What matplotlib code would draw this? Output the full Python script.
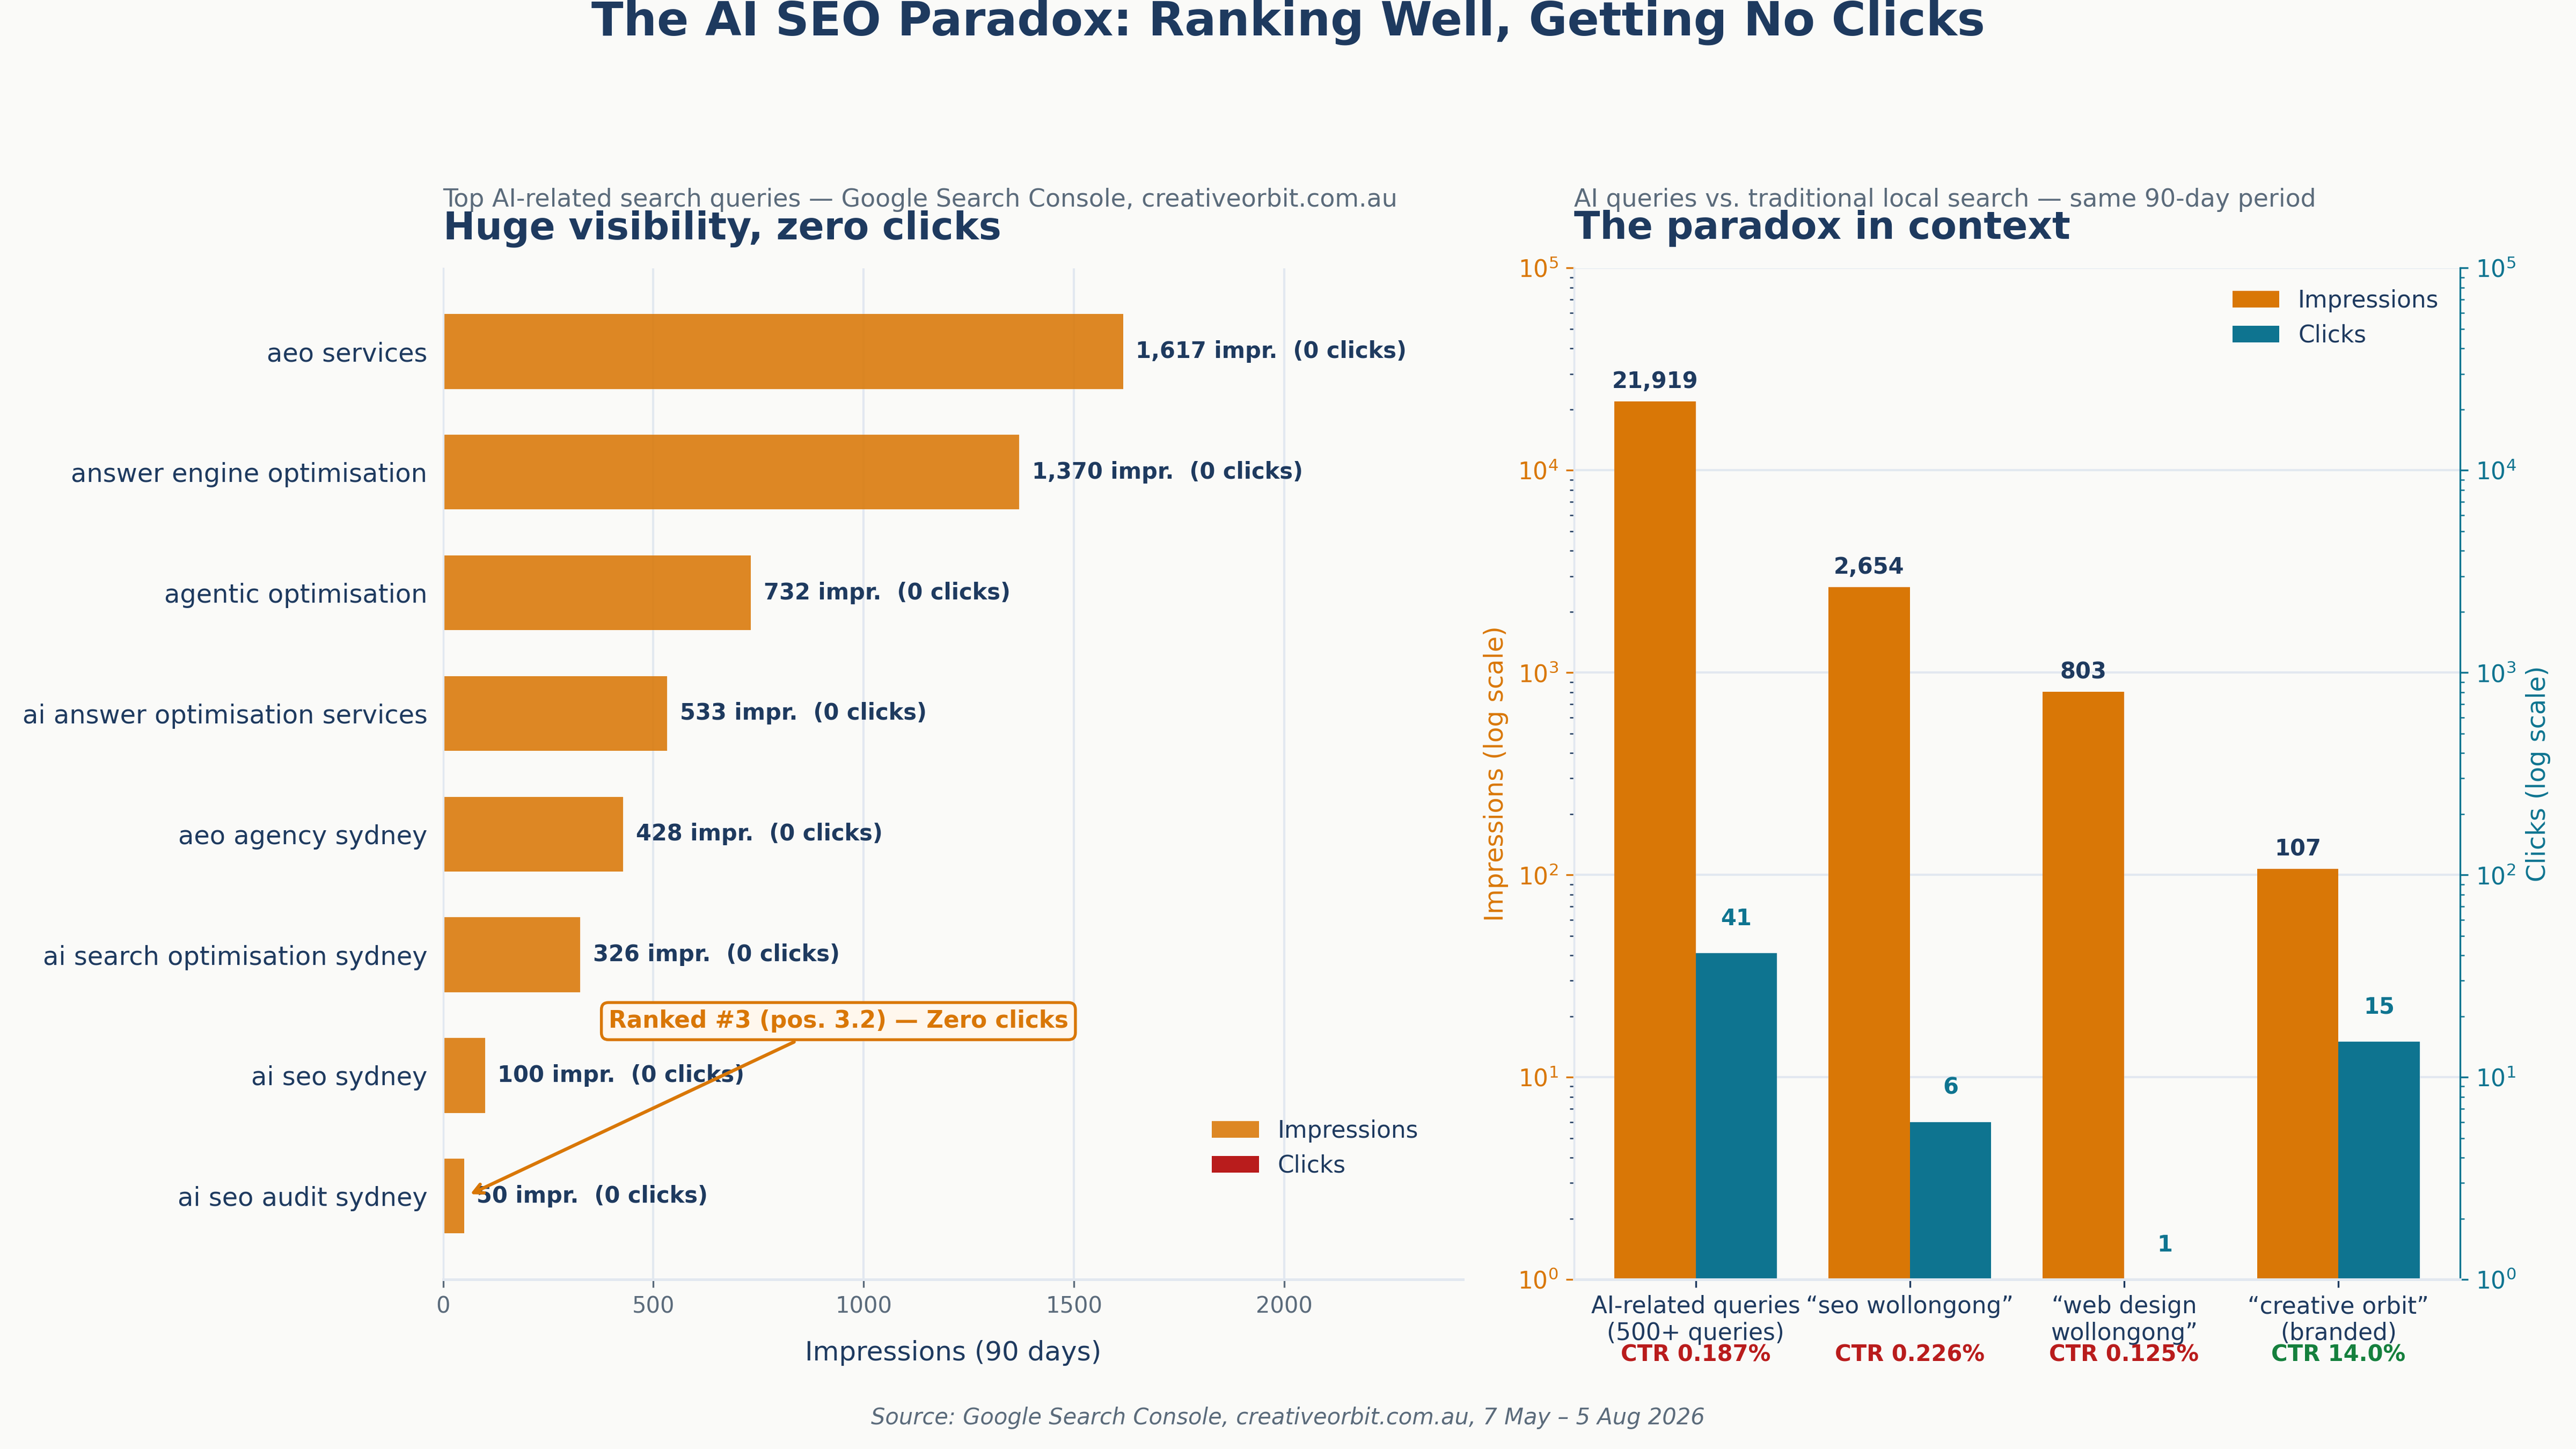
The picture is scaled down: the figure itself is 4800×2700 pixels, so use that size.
import matplotlib.pyplot as plt
import numpy as np
from matplotlib.ticker import LogLocator
from matplotlib.transforms import blended_transform_factory

# left panel: top AI queries
queries = ["aeo services", "answer engine optimisation", "agentic optimisation",
           "ai answer optimisation services", "aeo agency sydney",
           "ai search optimisation sydney", "ai seo sydney", "ai seo audit sydney"]
query_impr = [1617, 1370, 732, 533, 428, 326, 100, 50]
query_clicks = [0, 0, 0, 0, 0, 0, 0, 0]

# right panel: context comparison
groups = ["AI-related queries\n(500+ queries)", "\u201cseo wollongong\u201d",
          "\u201cweb design\nwollongong\u201d", "\u201ccreative orbit\u201d\n(branded)"]
group_impr = [21919, 2654, 803, 107]
group_clicks = [41, 6, 1, 15]

BG = "#FAFAF8"
NAVY = "#1E3A5F"
GREY = "#5B6B7B"
ORANGE = "#D97706"
TEAL = "#0E7490"
RED = "#B91C1C"
GREEN = "#15803D"
LIGHT = "#E2E8F0"

plt.rcParams['font.family'] = ['DejaVu Sans']

fig = plt.figure(figsize=(16, 9), dpi=300, facecolor=BG)
fig.suptitle("The AI SEO Paradox: Ranking Well, Getting No Clicks",
             fontsize=21, fontweight='bold', color=NAVY, y=1.0, va='top')

# ---------- left ----------
ax1 = fig.add_axes([0.172, 0.117, 0.396, 0.698])
ax1.set_facecolor(BG)
y = np.arange(len(queries))
ax1.barh(y, query_impr, height=0.62, color=ORANGE, alpha=0.88, label="Impressions")
ax1.barh(y, query_clicks, height=0.62, color=RED, label="Clicks")
ax1.invert_yaxis()
ax1.set_yticks(y)
ax1.set_yticklabels(queries, fontsize=11.5, color=NAVY)
ax1.tick_params(axis='y', length=0, pad=7)
ax1.tick_params(axis='x', colors=GREY, labelsize=10)
ax1.set_xlim(0, max(query_impr) * 1.5)
ax1.grid(axis='x', color=LIGHT, linewidth=1)
ax1.set_axisbelow(True)
for s in ("top", "right"):
    ax1.spines[s].set_visible(False)
ax1.spines["left"].set_color(LIGHT)
ax1.spines["bottom"].set_color(LIGHT)
ax1.spines["bottom"].set_linewidth(1.2)
ax1.set_xlabel("Impressions (90 days)", fontsize=12, color=NAVY, labelpad=10)

for yi, v, c in zip(y, query_impr, query_clicks):
    ax1.text(v + 30, yi, f"{v:,} impr.  ({c} clicks)", va='center', ha='left',
             fontsize=10, fontweight='bold', color=NAVY)

ax1.annotate("Ranked #3 (pos. 3.2) \u2014 Zero clicks", xy=(55, 7), xytext=(940, 5.55),
             fontsize=10.5, fontweight='bold', color=ORANGE, ha='center', va='center',
             bbox=dict(boxstyle="round,pad=0.3", fc="#FFF7ED", ec=ORANGE, lw=1.3),
             arrowprops=dict(arrowstyle="->", color=ORANGE, lw=1.5))

ax1.legend(loc='lower right', bbox_to_anchor=(0.977, 0.08), frameon=False,
           fontsize=10.5, labelcolor=NAVY)
ax1.set_title("Huge visibility, zero clicks", loc='left', fontsize=17,
              fontweight='bold', color=NAVY, pad=13)
ax1.text(0, 1.061, "Top AI-related search queries \u2014 Google Search Console, creativeorbit.com.au",
         transform=ax1.transAxes, fontsize=11, color=GREY, va='baseline')

# ---------- right ----------
ax2 = fig.add_axes([0.611, 0.117, 0.344, 0.698])
ax2.set_facecolor(BG)
x = np.arange(len(groups))
w = 0.38
b1 = ax2.bar(x - w / 2, group_impr, width=w, color=ORANGE, label="Impressions")
ax2.set_yscale('log')
ax2.set_ylim(1, 1e5)
ax3 = ax2.twinx()
b2 = ax3.bar(x + w / 2, group_clicks, width=w, color=TEAL, label="Clicks")
ax3.set_yscale('log')
ax3.set_ylim(1, 1e5)

ax2.set_xticks(x)
ax2.set_xticklabels(groups, fontsize=10.5, color=NAVY)
ax2.tick_params(axis='x', colors=NAVY, labelcolor=NAVY)
ax2.tick_params(axis='y', which='major', colors=ORANGE, labelsize=10.5)
ax2.tick_params(axis='y', which='minor', colors=NAVY)
ax3.tick_params(axis='y', which='both', colors=TEAL, labelsize=10.5)
ax2.yaxis.set_major_locator(LogLocator(base=10, numticks=10))
ax3.yaxis.set_major_locator(LogLocator(base=10, numticks=10))
ax2.grid(axis='y', which='major', color=LIGHT, linewidth=1)
ax2.set_axisbelow(True)

for a in (ax2, ax3):
    a.spines["top"].set_visible(False)
    a.spines["left"].set_color(LIGHT)
    a.spines["bottom"].set_color(LIGHT)
    a.spines["bottom"].set_linewidth(1.2)
ax3.spines["right"].set_color(TEAL)
ax2.spines["right"].set_visible(False)

ax2.set_ylabel("Impressions (log scale)", fontsize=11.5, color=ORANGE)
ax3.set_ylabel("Clicks (log scale)", fontsize=11.5, color=TEAL)

for xi, v in zip(x, group_impr):
    ax2.text(xi - w / 2, v * 1.1, f"{v:,}", ha='center', va='bottom',
             fontsize=10, fontweight='bold', color=NAVY)
for xi, v in zip(x, group_clicks):
    ax3.text(xi + w / 2, v * 1.3, f"{v:,}", ha='center', va='bottom',
             fontsize=10, fontweight='bold', color=TEAL)

trans = blended_transform_factory(ax2.transData, ax2.transAxes)
for xi, i, c in zip(x, group_impr, group_clicks):
    ctr = c / i * 100
    txt = f"CTR {ctr:.3f}%" if ctr < 1 else f"CTR {ctr:.1f}%"
    ax2.text(xi, -0.0745, txt, transform=trans, ha='center', va='center',
             fontsize=10, fontweight='bold', color=RED if ctr < 1 else GREEN)

ax2.legend([b1, b2], ["Impressions", "Clicks"], loc='upper right', frameon=False,
           fontsize=10.5, labelcolor=NAVY)
ax2.set_title("The paradox in context", loc='left', fontsize=17,
              fontweight='bold', color=NAVY, pad=13)
ax2.text(0, 1.061, "AI queries vs. traditional local search \u2014 same 90-day period",
         transform=ax2.transAxes, fontsize=11, color=GREY, va='baseline')

fig.text(0.5, 0.0215, "Source: Google Search Console, creativeorbit.com.au, 7 May \u2013 5 Aug 2026",
         ha='center', va='center', fontsize=10, style='italic', color=GREY)

plt.savefig("out.png", dpi=300, facecolor=BG)
